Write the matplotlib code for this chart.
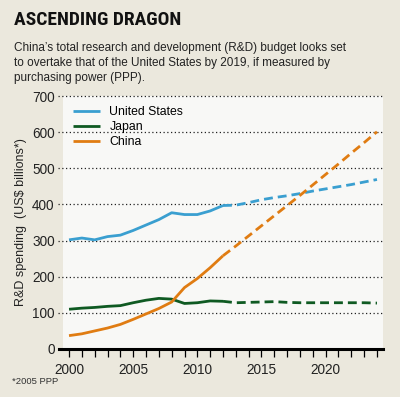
import matplotlib.pyplot as plt
import numpy as np

# data (US$ billions, 2005 PPP)
years_hist = list(range(2000, 2013))
years_proj = list(range(2012, 2025))

us_hist = [302, 307, 302, 311, 315, 328, 343, 358, 377, 372, 372, 382, 397]
us_proj = [397, 398, 405, 413, 419, 424, 430, 437, 443, 449, 455, 462, 469]

japan_hist = [110, 113, 115, 118, 120, 128, 135, 140, 138, 126, 128, 133, 132]
japan_proj = [132, 128, 129, 130, 131, 129, 128, 128, 128, 128, 128, 128, 127]

china_hist = [37, 42, 50, 58, 68, 82, 97, 112, 130, 170, 195, 225, 258]
china_proj = [258, 285, 313, 341, 369, 397, 425, 454, 483, 512, 542, 571, 601]

series = [
    ('United States', us_hist, us_proj, '#3a9fd0'),
    ('Japan', japan_hist, japan_proj, '#0f5a22'),
    ('China', china_hist, china_proj, '#e07c12'),
]

bg = '#ebe8dd'
panel = '#f8f8f6'
plt.rcParams['font.family'] = ['Liberation Sans', 'DejaVu Sans']

fig = plt.figure(figsize=(4.0, 3.97), dpi=100, facecolor=bg)
W, H = 400, 397
ax = fig.add_axes([63 / W, 48 / H, 320 / W, 253 / H])
ax.set_facecolor(panel)

for name, hist, proj, col in series:
    ax.plot(years_hist, hist, color=col, lw=2.0, solid_capstyle='butt', label=name, zorder=3)
    ax.plot(years_proj, proj, color=col, lw=2.0, dashes=(3.2, 1.8), zorder=3)

ax.set_xlim(1999.53, 2024.47)
ax.set_ylim(0, 700)

# dotted gridlines reaching a bit left of the panel
for v in range(100, 701, 100):
    ax.axhline(v, xmin=-0.016, xmax=1, color='#222222', lw=0.9, ls=(0, (1, 2)), clip_on=False, zorder=1)
ax.axhline(0, xmin=-0.013, xmax=1, color='black', lw=2.2, clip_on=False, zorder=4)

for s in ax.spines.values():
    s.set_visible(False)

ax.set_yticks(range(0, 701, 100))
ax.tick_params(axis='y', length=0, pad=6, labelsize=9.8, labelcolor='#222222')
ax.set_xticks(range(2000, 2025))
ax.set_xticklabels([str(y) if y % 5 == 0 else '' for y in range(2000, 2025)])
ax.tick_params(axis='x', length=6, width=0.9, pad=4, labelsize=9.8, labelcolor='#222222', direction='out')

ax.set_ylabel('R&D spending  (US$ billions*)', fontsize=9, color='#222222')
ax.yaxis.set_label_coords(-0.112, 0.5)

ax.legend(loc='upper left', frameon=False, fontsize=8.8, handlelength=2.2,
          handletextpad=0.8, labelspacing=0.25, borderaxespad=0.4,
          bbox_to_anchor=(0.0, 1.0))

fig.text(14 / W, 1 - 20 / H, 'ASCENDING DRAGON', fontsize=14, fontweight='bold',
         family=['Liberation Sans Narrow', 'Roboto Condensed', 'DejaVu Sans Condensed', 'Liberation Sans'],
         color='#111111', va='center')
fig.text(14 / W, 1 - 42 / H,
         "China’s total research and development (R&D) budget looks set\n"
         "to overtake that of the United States by 2019, if measured by\n"
         "purchasing power (PPP).",
         fontsize=8.5, color='#222222', va='top', linespacing=1.33)
fig.text(12 / W, 1 - 382 / H, '*2005 PPP', fontsize=6.8, color='#333333', va='center')

fig.savefig('out.png', dpi=100, facecolor=bg)
